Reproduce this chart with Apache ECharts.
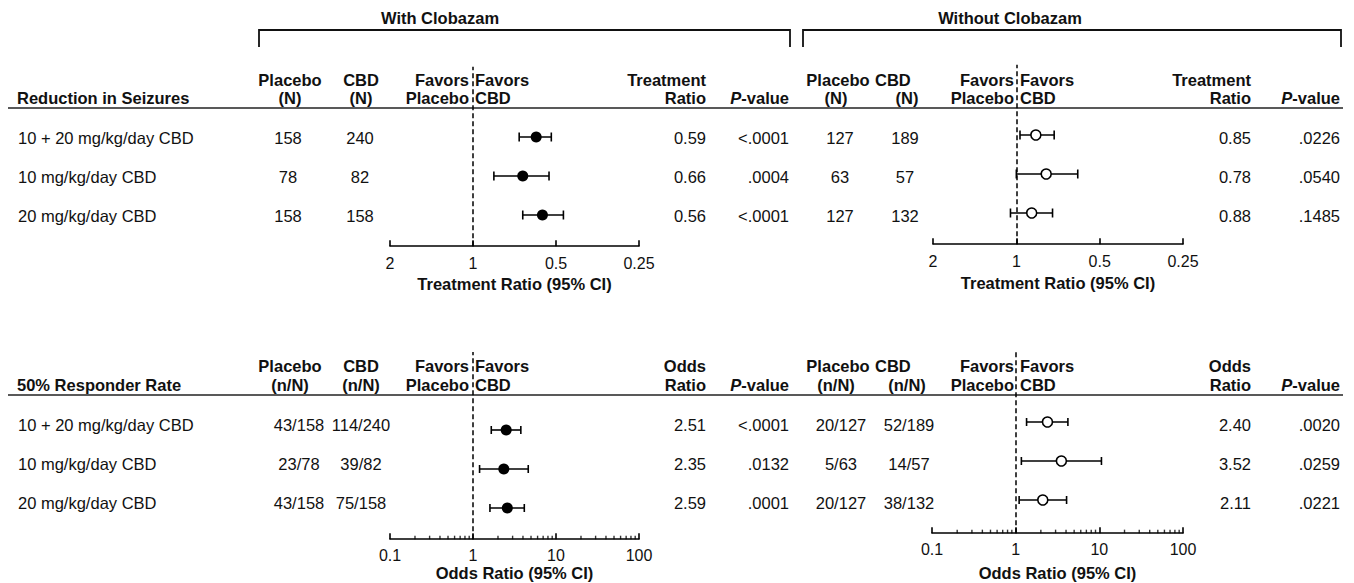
<!DOCTYPE html>
<html><head><meta charset="utf-8">
<script src="https://cdn.jsdelivr.net/npm/echarts@6/dist/echarts.min.js"></script>
<style>html,body{margin:0;padding:0;background:#fff}#c{width:1354px;height:583px}</style>
</head><body><div id="c"></div>
<script>
// ---------------- DATA ----------------
const rowLabels = ['10 + 20 mg/kg/day CBD', '10 mg/kg/day CBD', '20 mg/kg/day CBD'];
const rowPos = [3, 2, 1];

// Reduction in seizures, with clobazam
const seizWithPlaceboN = [158, 78, 158];
const seizWithCbdN = [240, 82, 158];
const seizWithRatio = [0.59, 0.66, 0.56];
const seizWithLow = [0.52, 0.53, 0.47];
const seizWithHigh = [0.68, 0.84, 0.66];
const seizWithP = ['<.0001', '.0004', '<.0001'];
// Reduction in seizures, without clobazam
const seizWoPlaceboN = [127, 63, 127];
const seizWoCbdN = [189, 57, 132];
const seizWoRatio = [0.85, 0.78, 0.88];
const seizWoLow = [0.73, 0.60, 0.74];
const seizWoHigh = [0.97, 1.00, 1.05];
const seizWoP = ['.0226', '.0540', '.1485'];
// 50% responder rate, with clobazam
const respWithPlacebo = ['43/158', '23/78', '43/158'];
const respWithCbd = ['114/240', '39/82', '75/158'];
const respWithOR = [2.51, 2.35, 2.59];
const respWithLow = [1.66, 1.20, 1.60];
const respWithHigh = [3.77, 4.63, 4.15];
const respWithP = ['<.0001', '.0132', '.0001'];
// 50% responder rate, without clobazam
const respWoPlacebo = ['20/127', '5/63', '20/127'];
const respWoCbd = ['52/189', '14/57', '38/132'];
const respWoOR = [2.40, 3.52, 2.11];
const respWoLow = [1.35, 1.17, 1.10];
const respWoHigh = [4.21, 10.6, 4.06];
const respWoP = ['.0020', '.0259', '.0221'];

const ratioTickLabels = ['2', '1', '0.5', '0.25'];
const oddsTickLabels = ['0.1', '1', '10', '100'];
const oddsMinorTicks = [0.2,0.3,0.4,0.5,0.6,0.7,0.8,0.9,2,3,4,5,6,7,8,9,20,30,40,50,60,70,80,90];

// ---------------- LAYOUT ----------------
const FONT = '"Liberation Sans", Arial, Helvetica, sans-serif';
const TXT = 16.5;
const HB = 'bold 16.5px ' + FONT;

const topTable = rowLabels.map((l, i) => [l, String(seizWithPlaceboN[i]), String(seizWithCbdN[i]), seizWithRatio[i].toFixed(2), seizWithP[i],
  String(seizWoPlaceboN[i]), String(seizWoCbdN[i]), seizWoRatio[i].toFixed(2), seizWoP[i]]);
const botTable = rowLabels.map((l, i) => [l, respWithPlacebo[i], respWithCbd[i], respWithOR[i].toFixed(2), respWithP[i],
  respWoPlacebo[i], respWoCbd[i], respWoOR[i].toFixed(2), respWoP[i]]);

const topCols = [{x:18,a:'left'},{x:288,a:'center'},{x:360,a:'center'},{x:706,a:'right'},{x:789,a:'right'},
                 {x:840,a:'center'},{x:905,a:'center'},{x:1251,a:'right'},{x:1340,a:'right'}];
const botCols = [{x:18,a:'left'},{x:299,a:'center'},{x:361,a:'center'},{x:706,a:'right'},{x:789,a:'right'},
                 {x:841,a:'center'},{x:909,a:'center'},{x:1251,a:'right'},{x:1340,a:'right'}];

function tableRender(table, cols) {
  return function (params, api) {
    const row = api.value(0);
    const rowTexts = table[params.dataIndex];
    return {type: 'group', children: cols.map((c, k) => {
      const p = api.coord([c.x, row]);
      return {type: 'text', x: p[0], y: p[1], style: {text: rowTexts[k], font: TXT + 'px ' + FONT, fill: '#111',
        textAlign: c.a, align: c.a, textVerticalAlign: 'middle', verticalAlign: 'middle'}};
    })};
  };
}

function ciRender(capH) {
  return function (params, api) {
    const y = api.value(2);
    const p1 = api.coord([api.value(0), y]);
    const p2 = api.coord([api.value(1), y]);
    const st = {stroke: '#000', lineWidth: 1.6};
    return {type: 'group', children: [
      {type: 'line', shape: {x1: p1[0], y1: p1[1], x2: p2[0], y2: p2[1]}, style: st},
      {type: 'line', shape: {x1: p1[0], y1: p1[1] - capH / 2, x2: p1[0], y2: p1[1] + capH / 2}, style: st},
      {type: 'line', shape: {x1: p2[0], y1: p2[1] - capH / 2, x2: p2[0], y2: p2[1] + capH / 2}, style: st}
    ]};
  };
}

const forestGrids = [
  {left: 390, top: 66.8, width: 249, height: 179.4, yMin: 0.2, yMax: 4.8},
  {left: 933, top: 64.8, width: 250, height: 179.4, yMin: 0.2, yMax: 4.8},
  {left: 390, top: 352, width: 249, height: 187.2, yMin: 0.2, yMax: 5.0},
  {left: 932, top: 351.8, width: 251, height: 181.35, yMin: 0.15, yMax: 4.8}
];
const tableGrids = [
  {left: 0, top: 99, width: 1354, height: 156},
  {left: 0, top: 386, width: 1354, height: 156}
];
const grids = forestGrids.map(g => ({left: g.left, top: g.top, width: g.width, height: g.height})).concat(tableGrids);

function fmtTick(v) { return String(Math.round(v * 1000) / 1000); }

function baseAxis(gi, margin, gap, name, labels) {
  return {gridIndex: gi, position: 'bottom', splitNumber: 3,
    axisLine: {show: true, onZero: false, lineStyle: {color: '#000', width: 1.6}},
    axisTick: {show: true, inside: true, length: 6, lineStyle: {color: '#000', width: 1.6}},
    axisLabel: {color: '#111', fontSize: 16, fontFamily: FONT, margin: margin,
      formatter: v => { const s = fmtTick(v); return labels.includes(s) ? s : ''; }},
    splitLine: {show: false}, minorTick: {show: false},
    name: name, nameLocation: 'middle', nameGap: gap,
    nameTextStyle: {color: '#111', fontSize: 16.5, fontWeight: 'bold', fontFamily: FONT}};
}
function ratioAxis(gi, margin, gap) {
  return Object.assign(baseAxis(gi, margin, gap, 'Treatment Ratio (95% CI)', ratioTickLabels),
    {type: 'log', logBase: 2, min: 0.25, max: 2, inverse: true});
}
function oddsAxis(gi, margin, gap) {
  return Object.assign(baseAxis(gi, margin, gap, 'Odds Ratio (95% CI)', oddsTickLabels),
    {type: 'log', logBase: 10, min: 0.1, max: 100});
}

const xAxes = [
  ratioAxis(0, 9, 29), ratioAxis(1, 9, 30), oddsAxis(2, 8, 25), oddsAxis(3, 8, 31),
  {gridIndex: 4, type: 'value', min: 0, max: 1354, show: false},
  {gridIndex: 5, type: 'value', min: 0, max: 1354, show: false}
];
const yAxes = forestGrids.map((g, i) => ({gridIndex: i, type: 'value', min: g.yMin, max: g.yMax, show: false}))
  .concat([{gridIndex: 4, type: 'value', min: 0, max: 4, show: false},
           {gridIndex: 5, type: 'value', min: 0, max: 4, show: false}]);

const refLine = {silent: true, symbol: ['none', 'none'], label: {show: false},
  lineStyle: {color: '#000', width: 1.5, type: [5, 3]}, data: [{xAxis: 1}]};

function forestSeries(gi, est, lo, hi, filled, capH, size) {
  return [
    {type: 'custom', xAxisIndex: gi, yAxisIndex: gi, renderItem: ciRender(capH), silent: true, z: 3,
      data: est.map((e, i) => [lo[i], hi[i], rowPos[i]]), markLine: refLine},
    {type: 'scatter', xAxisIndex: gi, yAxisIndex: gi, silent: true, z: 4, symbol: 'circle', symbolSize: size,
      itemStyle: filled ? {color: '#000', opacity: 1} : {color: '#fff', borderColor: '#000', borderWidth: 1.6, opacity: 1},
      data: est.map((e, i) => [e, rowPos[i]])}
  ];
}
function minorTickSeries(gi) {
  return {type: 'scatter', xAxisIndex: gi, yAxisIndex: gi, silent: true, clip: false, z: 2,
    symbol: 'rect', symbolSize: [1.4, 3.5], symbolOffset: [0, -1.75], itemStyle: {color: '#000'},
    data: oddsMinorTicks.map(v => [v, forestGrids[gi].yMin])};
}

const series = [].concat(
  forestSeries(0, seizWithRatio, seizWithLow, seizWithHigh, true, 9, 11),
  forestSeries(1, seizWoRatio, seizWoLow, seizWoHigh, false, 9, 10),
  forestSeries(2, respWithOR, respWithLow, respWithHigh, true, 8, 11),
  forestSeries(3, respWoOR, respWoLow, respWoHigh, false, 8, 10),
  [minorTickSeries(2), minorTickSeries(3),
   {type: 'custom', xAxisIndex: 4, yAxisIndex: 4, silent: true, renderItem: tableRender(topTable, topCols),
     data: rowPos.map(r => [r])},
   {type: 'custom', xAxisIndex: 5, yAxisIndex: 5, silent: true, renderItem: tableRender(botTable, botCols),
     data: rowPos.map(r => [r])}]
);

// ---------------- STATIC HEADERS ----------------
function hdr(text, x, y, align) {
  return {type: 'text', x: x, y: y, silent: true,
    style: {text: text, font: HB, fill: '#111', textAlign: align, align: align, textVerticalAlign: 'middle', verticalAlign: 'middle',
      rich: {i: {font: 'italic bold 16.5px ' + FONT, fontStyle: 'italic', fontWeight: 'bold', fontSize: 16.5, fontFamily: FONT, fill: '#111'},
             n: {font: HB, fontWeight: 'bold', fontSize: 16.5, fontFamily: FONT, fill: '#111'}}}};
}
function section(l1, l2, rule, title, colUnit, ratioWord) {
  const g = [];
  g.push(hdr(title, 17, l2, 'left'));
  g.push(hdr('Placebo', 290, l1, 'center'), hdr(colUnit, 290, l2, 'center'));
  g.push(hdr('CBD', 361, l1, 'center'), hdr(colUnit, 361, l2, 'center'));
  g.push(hdr('Favors', 469, l1, 'right'), hdr('Placebo', 469, l2, 'right'));
  g.push(hdr('Favors', 475, l1, 'left'), hdr('CBD', 475, l2, 'left'));
  g.push(hdr(ratioWord, 706, l1, 'right'), hdr('Ratio', 706, l2, 'right'));
  g.push(hdr('{i|P}{n|-value}', 789, l2, 'right'));
  g.push(hdr('Placebo', 838, l1, 'center'), hdr(colUnit, 836, l2, 'center'));
  g.push(hdr('CBD', 875, l1, 'left'), hdr(colUnit, 907, l2, 'center'));
  g.push(hdr('Favors', 1014, l1, 'right'), hdr('Placebo', 1014, l2, 'right'));
  g.push(hdr('Favors', 1020, l1, 'left'), hdr('CBD', 1020, l2, 'left'));
  g.push(hdr(ratioWord, 1251, l1, 'right'), hdr('Ratio', 1251, l2, 'right'));
  g.push(hdr('{i|P}{n|-value}', 1340, l2, 'right'));
  g.push({type: 'line', silent: true, shape: {x1: 8, y1: rule, x2: 1343, y2: rule}, style: {stroke: '#222', lineWidth: 1.6}});
  return g;
}
const graphics = [].concat(
  [hdr('With Clobazam', 440, 18, 'center'), hdr('Without Clobazam', 1010, 18, 'center'),
   {type: 'polyline', silent: true, shape: {points: [[259, 47], [259, 30], [790, 30], [790, 47]]}, style: {stroke: '#111', lineWidth: 1.8, fill: null}},
   {type: 'polyline', silent: true, shape: {points: [[803, 47], [803, 30], [1341, 30], [1341, 47]]}, style: {stroke: '#111', lineWidth: 1.8, fill: null}}],
  section(80, 98, 108, 'Reduction in Seizures', '(N)', 'Treatment'),
  section(366, 385, 395, '50% Responder Rate', '(n/N)', 'Odds')
);

const chart = echarts.init(document.getElementById('c'), null, {renderer: 'svg'});
chart.setOption({
  animation: false,
  backgroundColor: '#fff',
  textStyle: {fontFamily: FONT},
  grid: grids,
  xAxis: xAxes,
  yAxis: yAxes,
  series: series,
  graphic: {elements: graphics}
});
</script></body></html>
